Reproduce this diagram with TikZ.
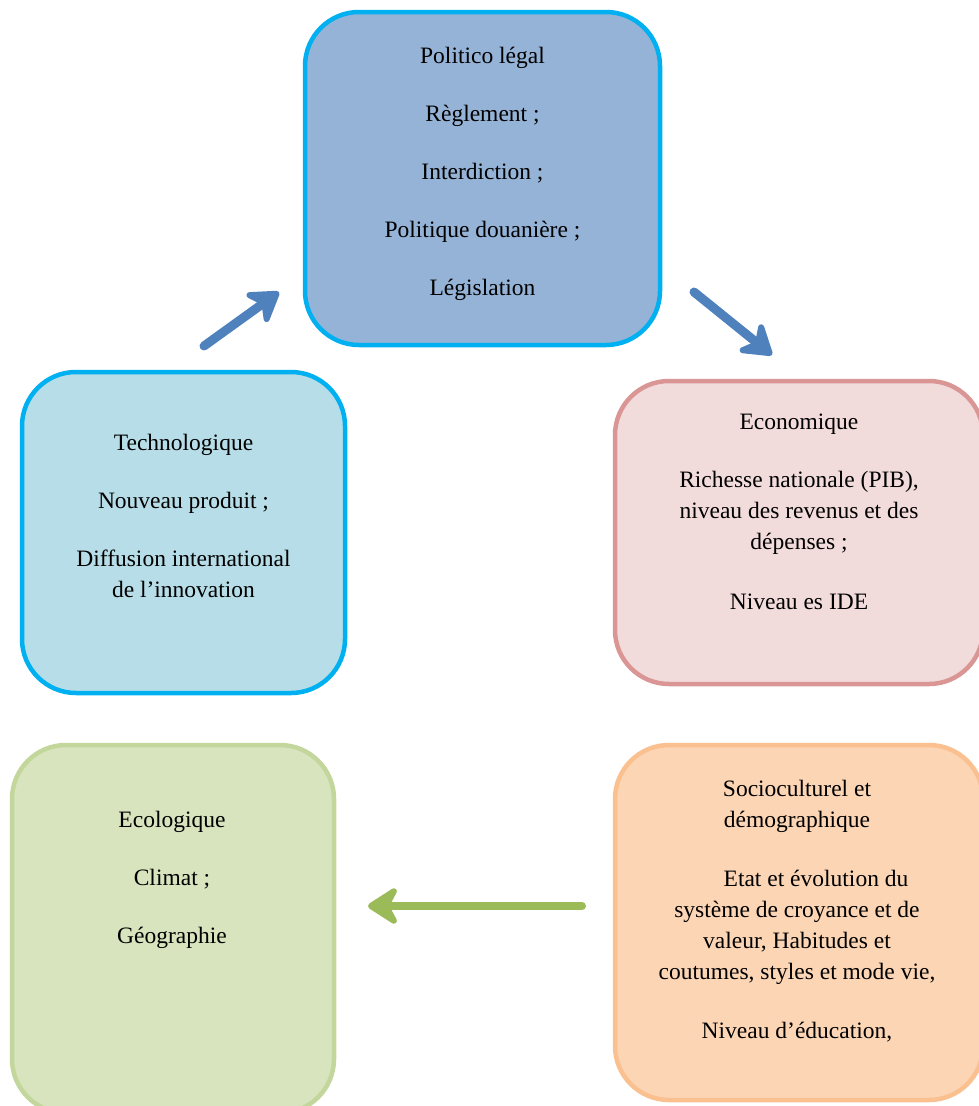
\documentclass[tikz,border=0pt]{standalone}
\usepackage{fontspec}
\setmainfont{Liberation Serif}
\usetikzlibrary{arrows.meta,positioning}

\definecolor{cyanline}{HTML}{00B0F0}
\definecolor{politfill}{HTML}{95B3D7}
\definecolor{technofill}{HTML}{B7DEE8}
\definecolor{ecoline}{HTML}{D99694}
\definecolor{ecofill}{HTML}{F2DCDB}
\definecolor{socioline}{HTML}{FAC090}
\definecolor{sociofill}{HTML}{FCD5B5}
\definecolor{ecololine}{HTML}{C3D69B}
\definecolor{ecolofill}{HTML}{D7E4BD}
\definecolor{bluearrow}{HTML}{4F81BD}
\definecolor{greenarrow}{HTML}{9BBB59}

\begin{document}
\begin{tikzpicture}[
    x=1pt, y=-1pt,
    box/.style={draw, line width=4.5pt, rounded corners=54pt, inner sep=0pt},
    txt/.style={anchor=north, align=center, inner sep=0pt,
                font=\fontsize{23.5}{31}\selectfont},
    bigarrow/.style={line width=9pt, line cap=round,
                     -{Stealth[length=36pt, width=46pt, inset=12pt, round]}}
]
  \useasboundingbox (0,0) rectangle (979,1106);

  \node[box, draw=cyanline, fill=politfill,
        minimum width=355pt, minimum height=333pt] (polit) at (482.5,178.5) {};
  \node[box, draw=cyanline, fill=technofill,
        minimum width=323pt, minimum height=321pt] (techno) at (183.5,532.5) {};
  \node[box, draw=ecoline, fill=ecofill,
        minimum width=368pt, minimum height=303pt] (eco) at (799,532.5) {};
  \node[box, draw=socioline, fill=sociofill,
        minimum width=368pt, minimum height=355pt] (socio) at (799,922.5) {};
  \node[box, draw=ecololine, fill=ecolofill,
        minimum width=322pt, minimum height=368pt] (ecolo) at (173,929) {};

  \node[txt] (polittxt) at (482.5,47) {Politico légal\\[27pt]
      Règlement ;\\[27pt] Interdiction ;\\[27pt]
      Politique douanière ;\\[27pt] Législation};
  \node[txt] (technotxt) at (183.5,434) {Technologique\\[27pt]
      Nouveau produit ;\\[27pt]
      Diffusion international\\ de l’innovation};
  \node[txt] (ecotxt) at (799,414) {Economique\\[27pt]
      Richesse nationale (PIB),\\ niveau des revenus et des\\
      dépenses ;\\[29pt] Niveau es IDE};
  \node[txt] (sociotxt) at (797,780) {Socioculturel et\\ démographique\\[28pt]
      \hspace*{38pt}Etat et évolution du\\
      système de croyance et de\\ valeur, Habitudes et\\
      coutumes, styles et mode vie,\\[28pt]
      Niveau d’éducation,};
  \node[txt] (ecolotxt) at (172,811) {Ecologique\\[27pt]
      Climat ;\\[27pt] Géographie};

  \coordinate (a1s) at (204,346);
  \coordinate (a1e) at (279,292);
  \coordinate (a2s) at (694,292);
  \coordinate (a2e) at (772,355);
  \coordinate (a3s) at (582,906);
  \coordinate (a3e) at (368,906);

  \draw[bigarrow, bluearrow] (a1s) -- (a1e);
  \draw[bigarrow, bluearrow] (a2s) -- (a2e);
  \draw[bigarrow, greenarrow, line width=8pt] (a3s) -- (a3e);
\end{tikzpicture}
\end{document}
